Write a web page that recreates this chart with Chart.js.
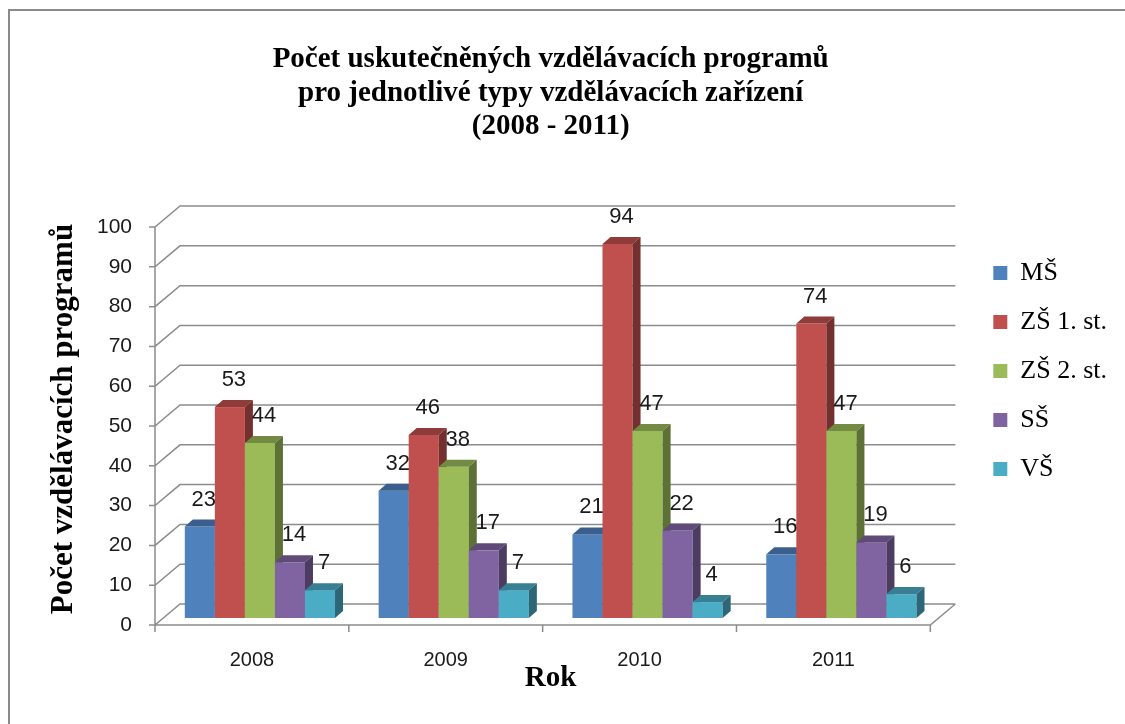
<!DOCTYPE html>
<html>
<head>
<meta charset="utf-8">
<script src="https://cdn.jsdelivr.net/npm/chart.js@4/dist/chart.umd.min.js"></script>
<style>
  html, body { margin: 0; padding: 0; background: #fff; }
  canvas { display: block; }
</style>
</head>
<body>
<canvas id="myChart" width="1125" height="724"></canvas>
<script>
// data
const years = ['2008', '2009', '2010', '2011'];
const seriesNames = ['MŠ', 'ZŠ 1. st.', 'ZŠ 2. st.', 'SŠ', 'VŠ'];
const ms  = [23, 32, 21, 16];
const zs1 = [53, 46, 94, 74];
const zs2 = [44, 38, 47, 47];
const ss  = [14, 17, 22, 19];
const vs  = [7, 7, 4, 6];
const yMin = 0, yMax = 100, yStep = 10;

const colors = ['#4F81BD', '#C0504D', '#9BBB59', '#8064A2', '#4BACC6'];
const DX = 8, DY = 7;          // depth of a bar
const WX = 17, WY = 14;        // back wall offset from the bar plane
const FX = -8, FY = 7;         // front plane offset from the bar plane
const gridColor = '#8c8c8c';

function shade(hex, f) {
    const n = parseInt(hex.slice(1), 16);
    const r = Math.round(((n >> 16) & 255) * f);
    const g = Math.round(((n >> 8) & 255) * f);
    const b = Math.round((n & 255) * f);
    return 'rgb(' + r + ',' + g + ',' + b + ')';
}

function poly(ctx, pts, fill) {
    ctx.beginPath();
    ctx.moveTo(pts[0][0], pts[0][1]);
    for (let i = 1; i < pts.length; i++) ctx.lineTo(pts[i][0], pts[i][1]);
    ctx.closePath();
    ctx.fillStyle = fill;
    ctx.fill();
}

// 3D look: wall, floor, bar faces and value labels
const threeD = {
    id: 'threeD',
    beforeDraw(chart) {
        const ctx = chart.ctx;
        ctx.save();
        ctx.fillStyle = '#fff';
        ctx.fillRect(0, 0, chart.width, chart.height);
        ctx.strokeStyle = '#8a8a8a';
        ctx.lineWidth = 2;
        ctx.beginPath();
        ctx.moveTo(9, chart.height);
        ctx.lineTo(9, 10);
        ctx.lineTo(chart.width, 10);
        ctx.stroke();
        ctx.restore();
    },
    beforeDatasetsDraw(chart) {
        const ctx = chart.ctx;
        const y = chart.scales.y;
        const a = chart.chartArea;
        ctx.save();
        ctx.strokeStyle = gridColor;
        ctx.lineWidth = 1.5;
        const fl = a.left + FX;
        ctx.beginPath();
        for (let v = yMin; v <= yMax; v += yStep) {
            const py = y.getPixelForValue(v);
            ctx.moveTo(fl - 6, py + FY);
            ctx.lineTo(fl, py + FY);
            ctx.lineTo(a.left + WX, py - WY);
            ctx.lineTo(a.right + WX, py - WY);
        }
        // axis line
        ctx.moveTo(fl, y.getPixelForValue(yMin) + FY);
        ctx.lineTo(fl, y.getPixelForValue(yMax) + FY);
        // floor front edge and right edge
        const p0 = y.getPixelForValue(yMin);
        ctx.moveTo(fl, p0 + FY);
        ctx.lineTo(a.right + FX, p0 + FY);
        ctx.lineTo(a.right + WX, p0 - WY);
        // category ticks
        const cw = (a.right - a.left) / years.length;
        for (let i = 0; i <= years.length; i++) {
            const px = a.left + i * cw + FX;
            ctx.moveTo(px, p0 + FY);
            ctx.lineTo(px, p0 + FY + 7);
        }
        ctx.stroke();
        ctx.restore();
    },
    beforeDatasetDraw() {
        return false;
    },
    afterDatasetsDraw(chart) {
        const ctx = chart.ctx;
        ctx.save();
        for (let j = 0; j < years.length; j++) {
            for (let i = 0; i < chart.data.datasets.length; i++) {
                const el = chart.getDatasetMeta(i).data[j];
                const p = el.getProps(['x', 'y', 'base', 'width'], true);
                const l = p.x - p.width / 2, r = p.x + p.width / 2;
                const t = p.y, b = p.base;
                const c = colors[i];
                ctx.fillStyle = c;
                ctx.fillRect(l, t, r - l, b - t);
                poly(ctx, [[l, t], [l + DX, t - DY], [r + DX, t - DY], [r, t]], shade(c, 0.74));
                poly(ctx, [[r, t], [r + DX, t - DY], [r + DX, b - DY], [r, b]], shade(c, 0.6));
            }
        }
        ctx.font = '22px "Liberation Sans", Arial, sans-serif';
        ctx.fillStyle = '#1a1a1a';
        ctx.textAlign = 'center';
        ctx.textBaseline = 'middle';
        chart.data.datasets.forEach((ds, i) => {
            chart.getDatasetMeta(i).data.forEach((el, j) => {
                const p = el.getProps(['x', 'y'], true);
                ctx.fillText(String(ds.data[j]), p.x + DX / 2, p.y - 27);
            });
        });
        ctx.restore();
    }
};

const seriesData = [ms, zs1, zs2, ss, vs];

new Chart('myChart', {
    type: 'bar',
    data: {
        labels: years,
        datasets: seriesNames.map((name, i) => ({
            label: name,
            data: seriesData[i],
            backgroundColor: colors[i],
            borderColor: colors[i],
            borderWidth: 0,
            categoryPercentage: 0.775,
            barPercentage: 1.0
        }))
    },
    options: {
        responsive: false,
        animation: false,
        devicePixelRatio: 1,
        events: [],
        layout: { padding: { left: 0, right: 8, top: 0, bottom: 0 } },
        scales: {
            x: {
                grid: { display: false, drawTicks: false },
                border: { display: false },
                ticks: {
                    color: '#1a1a1a',
                    font: { family: '"Liberation Sans", Arial, sans-serif', size: 20 },
                    padding: 30,
                    labelOffset: FX
                },
                title: {
                    display: true,
                    text: 'Rok',
                    color: '#000',
                    font: { family: '"Liberation Serif", "Times New Roman", serif', size: 29, weight: 'bold' },
                    padding: { top: 0, bottom: 28 }
                },
                afterFit(s) { s.height = 106; }
            },
            y: {
                min: yMin,
                max: yMax,
                grid: { display: false, drawTicks: false },
                border: { display: false },
                ticks: {
                    stepSize: yStep,
                    color: '#1a1a1a',
                    font: { family: '"Liberation Sans", Arial, sans-serif', size: 21 },
                    padding: 31,
                    labelOffset: FY
                },
                title: {
                    display: true,
                    text: 'Počet vzdělávacích programů',
                    color: '#000',
                    font: { family: '"Liberation Serif", "Times New Roman", serif', size: 31, weight: 'bold' },
                    padding: { top: 45, bottom: 0 }
                },
                afterFit(s) { s.width = 163; }
            },
            y2: {
                position: 'right',
                display: true,
                grid: { display: false, drawTicks: false },
                border: { display: false },
                ticks: { display: false },
                afterFit(s) { s.width = 32; }
            }
        },
        plugins: {
            title: {
                display: true,
                fullSize: false,
                text: ['Počet uskutečněných vzdělávacích programů',
                       'pro jednotlivé typy vzdělávacích zařízení',
                       '(2008 - 2011)'],
                color: '#000',
                font: { family: '"Liberation Serif", "Times New Roman", serif', size: 29, weight: 'bold', lineHeight: 1.15 },
                padding: { top: 43, bottom: 77 }
            },
            legend: {
                position: 'right',
                align: 'center',
                title: { display: true, text: '', padding: 0, font: { size: 15, lineHeight: 1.2 } },
                labels: {
                    color: '#000',
                    font: { family: '"Liberation Serif", "Times New Roman", serif', size: 26 },
                    boxWidth: 14,
                    boxHeight: 14,
                    padding: 23
                }
            },
            tooltip: { enabled: false }
        }
    },
    plugins: [threeD]
});
</script>
</body>
</html>
